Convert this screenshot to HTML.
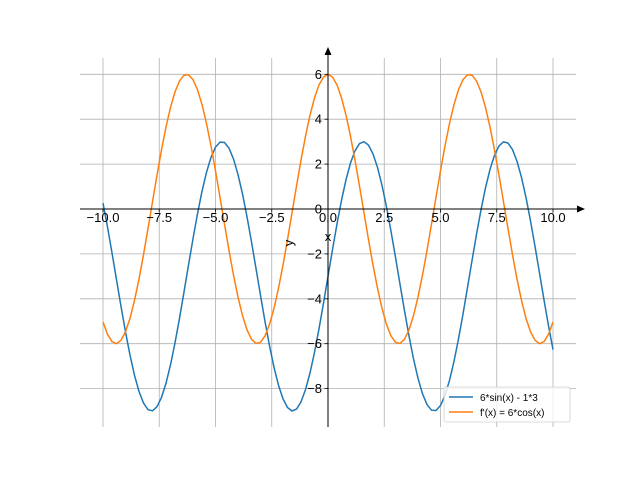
<!DOCTYPE html>
<html><head><meta charset="utf-8"><style>
html,body{margin:0;padding:0;background:#fff;}
svg{display:block;font-family:"Liberation Sans","DejaVu Sans",sans-serif;}
</style></head><body>
<svg id="s" width="640" height="480" viewBox="0 0 640 480" xmlns="http://www.w3.org/2000/svg">
<g id="grid" stroke="#b0b0b0" stroke-width="0.8"></g>
<g id="series" fill="none" stroke-width="1.5"></g>
<g id="axes" stroke="#000" stroke-width="0.8"></g>
<g id="labels" font-size="13" fill="#000"></g>
<line x1="80" y1="209" x2="580" y2="209" stroke="#000" stroke-width="1"/>
<polygon points="585,209 577,205.5 577,212.5" fill="#000"/>
<line x1="328" y1="427" x2="328" y2="53" stroke="#000" stroke-width="1"/>
<polygon points="328,47 324.5,55 331.5,55" fill="#000"/>
<text x="328" y="241" font-size="13" text-anchor="middle">x</text>
<text x="293" y="243" font-size="13" text-anchor="middle" transform="rotate(-90 293 243)">y</text>
<g>
<rect x="444" y="387" width="126" height="35" fill="#fff" fill-opacity="0.8" stroke="#d0d0d0" stroke-width="0.8" rx="2"/>
<line x1="449" y1="397" x2="473" y2="397" stroke="#1f77b4" stroke-width="1.5"/>
<line x1="449" y1="412" x2="473" y2="412" stroke="#ff7f0e" stroke-width="1.5"/>
<text x="480" y="401" font-size="10">6*sin(x) - 1*3</text>
<text x="480" y="416" font-size="10">f'(x) = 6*cos(x)</text>
</g>
</svg>
<script>
var X=function(x){return 328+x*22.5}, Y=function(y){return 209-y*22.45};
var ns="http://www.w3.org/2000/svg";
function el(p,t,a,txt){var e=document.createElementNS(ns,t);for(var k in a)e.setAttribute(k,a[k]);if(txt!==undefined)e.textContent=txt;document.getElementById(p).appendChild(e);return e;}
for(var i=-4;i<=4;i++){var x=X(i*2.5);el("grid","line",{x1:x,y1:58,x2:x,y2:427});el("axes","line",{x1:x,y1:209,x2:x,y2:212.5});
el("labels","text",{x:x,y:222,"text-anchor":"middle"},(i*2.5).toFixed(1).replace("-","\u2212"));}
for(var j=-8;j<=6;j+=2){var y=Y(j);el("grid","line",{x1:80,y1:y,x2:576,y2:y});el("axes","line",{x1:324.5,y1:y,x2:328,y2:y});
el("labels","text",{x:322,y:y+4.5,"text-anchor":"end"},String(j).replace("-","\u2212"));}
function path(f,c){var d="";for(var k=0;k<=100;k++){var x=-10+k*0.2;d+=(k?"L":"M")+X(x).toFixed(2)+","+Y(f(x)).toFixed(2);}el("series","path",{d:d,stroke:c});}
path(function(x){return 6*Math.sin(x)-3},"#1f77b4");
path(function(x){return 6*Math.cos(x)},"#ff7f0e");
</script>
</body></html>
